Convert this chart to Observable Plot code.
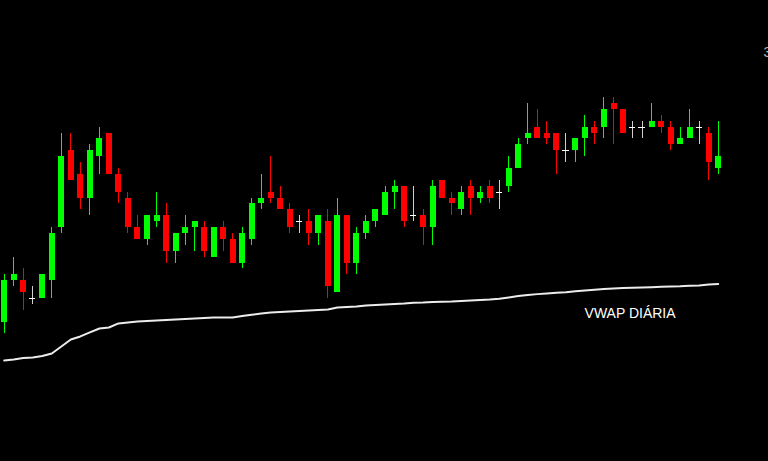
<!DOCTYPE html>
<html>
<head>
<meta charset="utf-8">
<script src="https://cdn.jsdelivr.net/npm/d3@7"></script>
<script src="https://cdn.jsdelivr.net/npm/@observablehq/plot@0.6"></script>
<style>
  html, body { margin: 0; padding: 0; background: #000; }
  #chart { width: 768px; height: 461px; overflow: hidden; }
</style>
</head>
<body>
<div id="chart"></div>
<script>
// Candle OHLC (price points), one per bar, left to right
const open = [
  126980,127015,127015,127000,127000,127015,127060,127125,127105,127085,
  127120,127140,127105,127085,127060,127050,127065,127070,127040,127055,
  127060,127060,127035,127060,127050,127030,127050,127080,127090,127085,
  127075,127065,127065,127055,127065,127005,127070,127030,127055,127065,
  127070,127090,127095,127070,127070,127060,127100,127085,127075,127095,
  127085,127095,127090,127095,127110,127135,127145,127140,127140,127125,
  127125,127135,127145,127145,127165,127160,127145,127145,127145,127150,
  127145,127130,127135,127145,127140,127110
];
const close = [
  127015,127020,127005,127000,127020,127055,127120,127100,127085,127125,
  127135,127105,127090,127060,127050,127070,127070,127040,127055,127060,
  127065,127040,127060,127050,127030,127055,127080,127085,127085,127075,
  127060,127065,127055,127070,127010,127070,127030,127055,127065,127075,
  127090,127095,127065,127070,127060,127095,127085,127080,127090,127085,
  127090,127085,127090,127110,127130,127140,127135,127135,127125,127125,
  127135,127145,127140,127160,127160,127140,127145,127145,127150,127145,
  127130,127135,127145,127145,127115,127120
];
const high = [
  127020,127035,127025,127010,127020,127060,127140,127140,127115,127130,
  127145,127140,127110,127090,127070,127070,127090,127080,127055,127070,
  127065,127065,127060,127065,127055,127060,127085,127105,127120,127095,
  127080,127070,127075,127070,127075,127085,127070,127060,127070,127075,
  127095,127100,127095,127095,127075,127100,127100,127090,127095,127100,
  127095,127100,127100,127120,127135,127165,127160,127150,127140,127140,
  127135,127155,127150,127170,127170,127160,127150,127150,127165,127155,
  127150,127145,127160,127150,127145,127150
];
const low = [
  126970,127010,126990,126995,127000,127000,127055,127100,127075,127070,
  127105,127105,127080,127055,127050,127045,127060,127030,127030,127045,
  127040,127035,127035,127040,127030,127025,127045,127075,127080,127075,
  127055,127055,127045,127045,127000,127005,127020,127020,127050,127060,
  127070,127075,127060,127065,127045,127045,127085,127070,127070,127070,
  127080,127080,127075,127090,127110,127130,127135,127130,127105,127115,
  127115,127120,127130,127135,127130,127140,127135,127135,127145,127140,
  127125,127130,127135,127130,127100,127105
];
// Daily VWAP value at each bar
const vwap = [
  126947.6,126948.4,126949.7,126950.1,126951.4,126953.5,126959.4,126965.3,126967.9,126971.3,
  126974.6,126975.5,126978.9,126979.7,126980.6,126981.0,126981.4,126981.8,126982.3,126982.7,
  126983.1,126983.5,126983.9,126983.9,126984.0,126985.2,126986.2,126987.3,126988.2,126988.6,
  126989.0,126989.4,126989.9,126990.3,126990.7,126992.4,126992.8,126993.3,126994.1,126994.5,
  126994.9,126995.4,126995.8,126996.4,126996.6,126997.1,126997.3,126997.5,126997.9,126998.3,
  126998.8,126999.2,126999.8,127000.9,127002.1,127003.0,127003.7,127004.3,127004.8,127005.3,
  127006.1,127006.8,127007.4,127008.1,127008.5,127008.8,127009.1,127009.3,127009.6,127009.9,
  127010.2,127010.4,127010.8,127011.0,127011.9,127012.3
];
// Labels (text, bar position, price)
const labels = [
  {text: "VWAP DIÁRIA", i: 60.96, price: 126983.9, size: 14, fill: "#ffffff"},
  {text: "3", i: 79.76, price: 127203.9, size: 14, fill: "#b8b8b8"}
];

const UP = "#00ff00", DOWN = "#ff0000", DOJI = "#ffffff";

const candles = open.map((o, i) => ({
  i, open: o, close: close[i], high: high[i], low: low[i],
  color: close[i] > o ? UP : close[i] < o ? DOWN : DOJI
}));
const bodies = candles.filter(d => d.open !== d.close);
const dojis = candles.filter(d => d.open === d.close);
const vw = vwap.map((v, i) => ({i, v}));

const chart = Plot.plot({
  width: 768,
  height: 461,
  marginTop: 0, marginRight: 0, marginBottom: 0, marginLeft: 0,
  style: {background: "#000", overflow: "hidden"},
  x: {domain: [-0.389, 80.28], axis: null},
  y: {domain: [126862.1, 127252.1], axis: null},
  marks: [
    Plot.ruleX(candles, {x: "i", y1: "low", y2: "high",
      stroke: d => d.color === DOJI ? "#cfcfcf" : d.color, strokeWidth: 1, shapeRendering: "crispEdges"}),
    Plot.ruleX(bodies, {x: "i", y1: "open", y2: "close",
      stroke: "color", strokeWidth: 6, shapeRendering: "crispEdges"}),
    Plot.ruleY(dojis, {y: "open", x1: d => d.i - 0.33, x2: d => d.i + 0.33,
      stroke: DOJI, strokeWidth: 1, shapeRendering: "crispEdges"}),
    Plot.line(vw, {x: "i", y: "v", stroke: "#ececec", strokeWidth: 2, curve: "linear"}),
    Plot.text(labels, {x: "i", y: "price", text: "text", fill: "fill",
      fontSize: "size", textAnchor: "start", lineAnchor: "bottom",
      fontFamily: "Liberation Sans, Arial, sans-serif"})
  ]
});
document.getElementById("chart").appendChild(chart);
</script>
</body>
</html>
